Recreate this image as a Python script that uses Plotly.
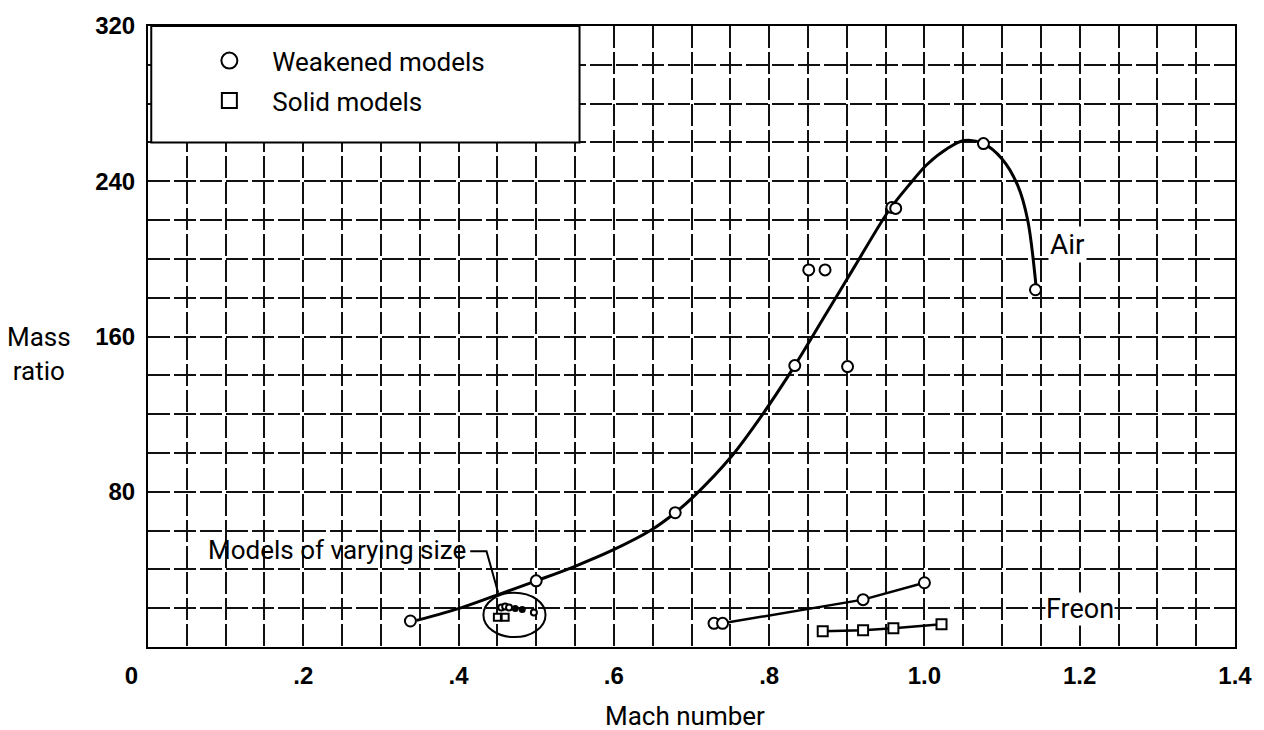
import plotly.graph_objects as go

# ---------------- data ----------------
# Air: weakened models (circles)
air_x = [0.338, 0.500, 0.679, 0.833, 0.851, 0.872, 0.901, 0.958, 0.963, 1.076, 1.143]
air_y = [13.4, 34.1, 69.2, 145.0, 194.3, 194.3, 144.5, 226.5, 226.0, 259.4, 184.1]

# Faired curve through air data
air_curve_x = [0.346, 0.404, 0.451, 0.500, 0.550, 0.599, 0.647, 0.679, 0.704, 0.750,
               0.790, 0.833, 0.870, 0.910, 0.954, 0.980, 1.003, 1.030, 1.051, 1.076,
               1.100, 1.120, 1.133, 1.144]
air_curve_y = [13.7, 20.3, 27.0, 34.1, 41.6, 50.0, 60.0, 69.2, 78.0, 97.5,
               119.0, 145.0, 169.5, 196.0, 224.8, 238.0, 248.5, 257.0, 261.0, 259.4,
               251.5, 238.0, 220.0, 185.0]

# Models of varying size (cluster)
vary_w_x = [0.455, 0.460, 0.465, 0.497]
vary_w_y = [20.3, 20.9, 20.3, 17.8]
vary_f_x = [0.473, 0.482]
vary_f_y = [19.8, 19.3]
vary_s_x = [0.450, 0.460]
vary_s_y = [15.3, 15.3]

# Freon: weakened (circles) and solid (squares)
freon_w_x = [0.729, 0.740, 0.921, 1.000]
freon_w_y = [12.2, 12.2, 24.4, 33.1]
freon_s_x = [0.869, 0.921, 0.960, 1.022]
freon_s_y = [8.1, 8.6, 9.7, 11.7]

# Ellipse around varying-size models and its leader line
ellipse_x = [0.432, 0.512]
ellipse_y = [5.1, 28.0]
leader_x = [0.415, 0.436, 0.451]
leader_y = [49.3, 49.3, 28.0]

# Ticks
x_tick_vals = [0, 0.2, 0.4, 0.6, 0.8, 1.0, 1.2, 1.4]
x_tick_text = ["0" + "\u00a0" * 5, ".2", ".4", ".6", ".8", "1.0", "1.2", "1.4"]
y_tick_vals = [80, 160, 240, 320]
y_tick_text = ["80", "160", "240", "320"]

TXT = "Roboto, Liberation Sans, sans-serif"

fig = go.Figure()

circle_marker = dict(symbol="circle", size=11, color="white", line=dict(color="black", width=2))
square_marker = dict(symbol="square", size=10, color="white", line=dict(color="black", width=2))

# curves
fig.add_trace(go.Scatter(x=air_curve_x, y=air_curve_y, mode="lines",
                         line=dict(color="black", width=3, shape="spline", smoothing=0.9),
                         showlegend=False, hoverinfo="skip"))
fig.add_trace(go.Scatter(x=freon_w_x[1:], y=freon_w_y[1:], mode="lines",
                         line=dict(color="black", width=2.5), showlegend=False))
fig.add_trace(go.Scatter(x=freon_s_x, y=freon_s_y, mode="lines",
                         line=dict(color="black", width=2.5), showlegend=False))
fig.add_trace(go.Scatter(x=leader_x, y=leader_y, mode="lines",
                         line=dict(color="black", width=2), showlegend=False))

# markers
fig.add_trace(go.Scatter(x=air_x, y=air_y, mode="markers", marker=circle_marker, showlegend=False))
fig.add_trace(go.Scatter(x=freon_w_x, y=freon_w_y, mode="markers", marker=circle_marker, showlegend=False))
fig.add_trace(go.Scatter(x=freon_s_x, y=freon_s_y, mode="markers", marker=square_marker, showlegend=False))
fig.add_trace(go.Scatter(x=vary_w_x, y=vary_w_y, mode="markers",
                         marker=dict(symbol="circle", size=6, color="white", line=dict(color="black", width=2)),
                         showlegend=False))
fig.add_trace(go.Scatter(x=vary_f_x, y=vary_f_y, mode="markers",
                         marker=dict(symbol="circle", size=7, color="black"), showlegend=False))
fig.add_trace(go.Scatter(x=vary_s_x, y=vary_s_y, mode="markers",
                         marker=dict(symbol="square", size=7, color="white", line=dict(color="black", width=2)),
                         showlegend=False))

# legend entries
fig.add_trace(go.Scatter(x=[None], y=[None], mode="markers", name="Weakened models",
                         legendgroup="a",
                         marker=dict(symbol="circle", size=16, color="white", line=dict(color="black", width=2))))
fig.add_trace(go.Scatter(x=[None], y=[None], mode="markers", name="Solid models",
                         legendgroup="b",
                         marker=dict(symbol="square", size=15, color="white", line=dict(color="black", width=2))))

# ellipse
fig.add_shape(type="circle", xref="x", yref="y",
              x0=ellipse_x[0], x1=ellipse_x[1], y0=ellipse_y[0], y1=ellipse_y[1],
              line=dict(color="black", width=2), layer="above")

# legend box
fig.add_shape(type="rect", xref="paper", yref="paper", x0=0.003, x1=0.397, y0=0.8124, y1=1.0,
              line=dict(color="black", width=2), fillcolor="white", layer="above")

ann_font = dict(family=TXT, size=26, color="black")
fig.add_annotation(x=0.412, y=50.0, xref="x", yref="y", text="Models of varying size",
                   showarrow=False, xanchor="right", yanchor="middle", font=ann_font)
fig.add_annotation(x=1.159, y=207.5, xref="x", yref="y", text="Air",
                   showarrow=False, xanchor="left", yanchor="middle",
                   font=dict(family=TXT, size=28, color="black"), bgcolor="white")
fig.add_annotation(x=1.155, y=19.8, xref="x", yref="y", text="Freon",
                   showarrow=False, xanchor="left", yanchor="middle",
                   font=dict(family=TXT, size=27, color="black"), bgcolor="white", borderpad=0)
fig.add_annotation(x=-0.1007, y=0.472, xref="paper", yref="paper", text="Mass<br>ratio",
                   showarrow=False, xanchor="center", yanchor="middle", align="center", font=ann_font)
fig.add_annotation(x=0.4936, y=-0.111, xref="paper", yref="paper", text="Mach number",
                   showarrow=False, xanchor="center", yanchor="middle", font=ann_font)

grid_common = dict(gridcolor="#111111", gridwidth=1.5, griddash="22px,4px")

fig.update_xaxes(range=[0, 1.4], tickvals=x_tick_vals, ticktext=x_tick_text,
                 tickfont=dict(family="Liberation Sans", size=24, color="black", weight="bold"),
                 showline=True, linecolor="black", linewidth=2, mirror=True,
                 ticks="outside", ticklen=6, tickcolor="rgba(0,0,0,0)",
                 showgrid=True, **grid_common, zeroline=False,
                 minor=dict(dtick=0.05, tick0=0, showgrid=True, **grid_common))
fig.update_yaxes(range=[0, 320], tickvals=y_tick_vals, ticktext=y_tick_text,
                 tickfont=dict(family="Liberation Sans", size=24, color="black", weight="bold"),
                 showline=True, linecolor="black", linewidth=2, mirror=True,
                 ticks="outside", ticklen=6, tickcolor="rgba(0,0,0,0)",
                 showgrid=True, **grid_common, zeroline=False,
                 minor=dict(dtick=20, tick0=0, showgrid=True, **grid_common))

fig.update_layout(
    width=1264, height=730,
    margin=dict(l=148, r=24, t=18, b=83),
    paper_bgcolor="white", plot_bgcolor="white",
    showlegend=True,
    legend=dict(x=0.0353, y=0.982, xanchor="left", yanchor="top",
                bgcolor="rgba(0,0,0,0)", borderwidth=0,
                font=dict(family=TXT, size=26, color="black"),
                itemwidth=76, tracegroupgap=3, traceorder="grouped"),
)

fig.write_html("out.html", config={"displayModeBar": False},
               post_script="document.body.style.margin='0';document.body.style.overflow='hidden';")
